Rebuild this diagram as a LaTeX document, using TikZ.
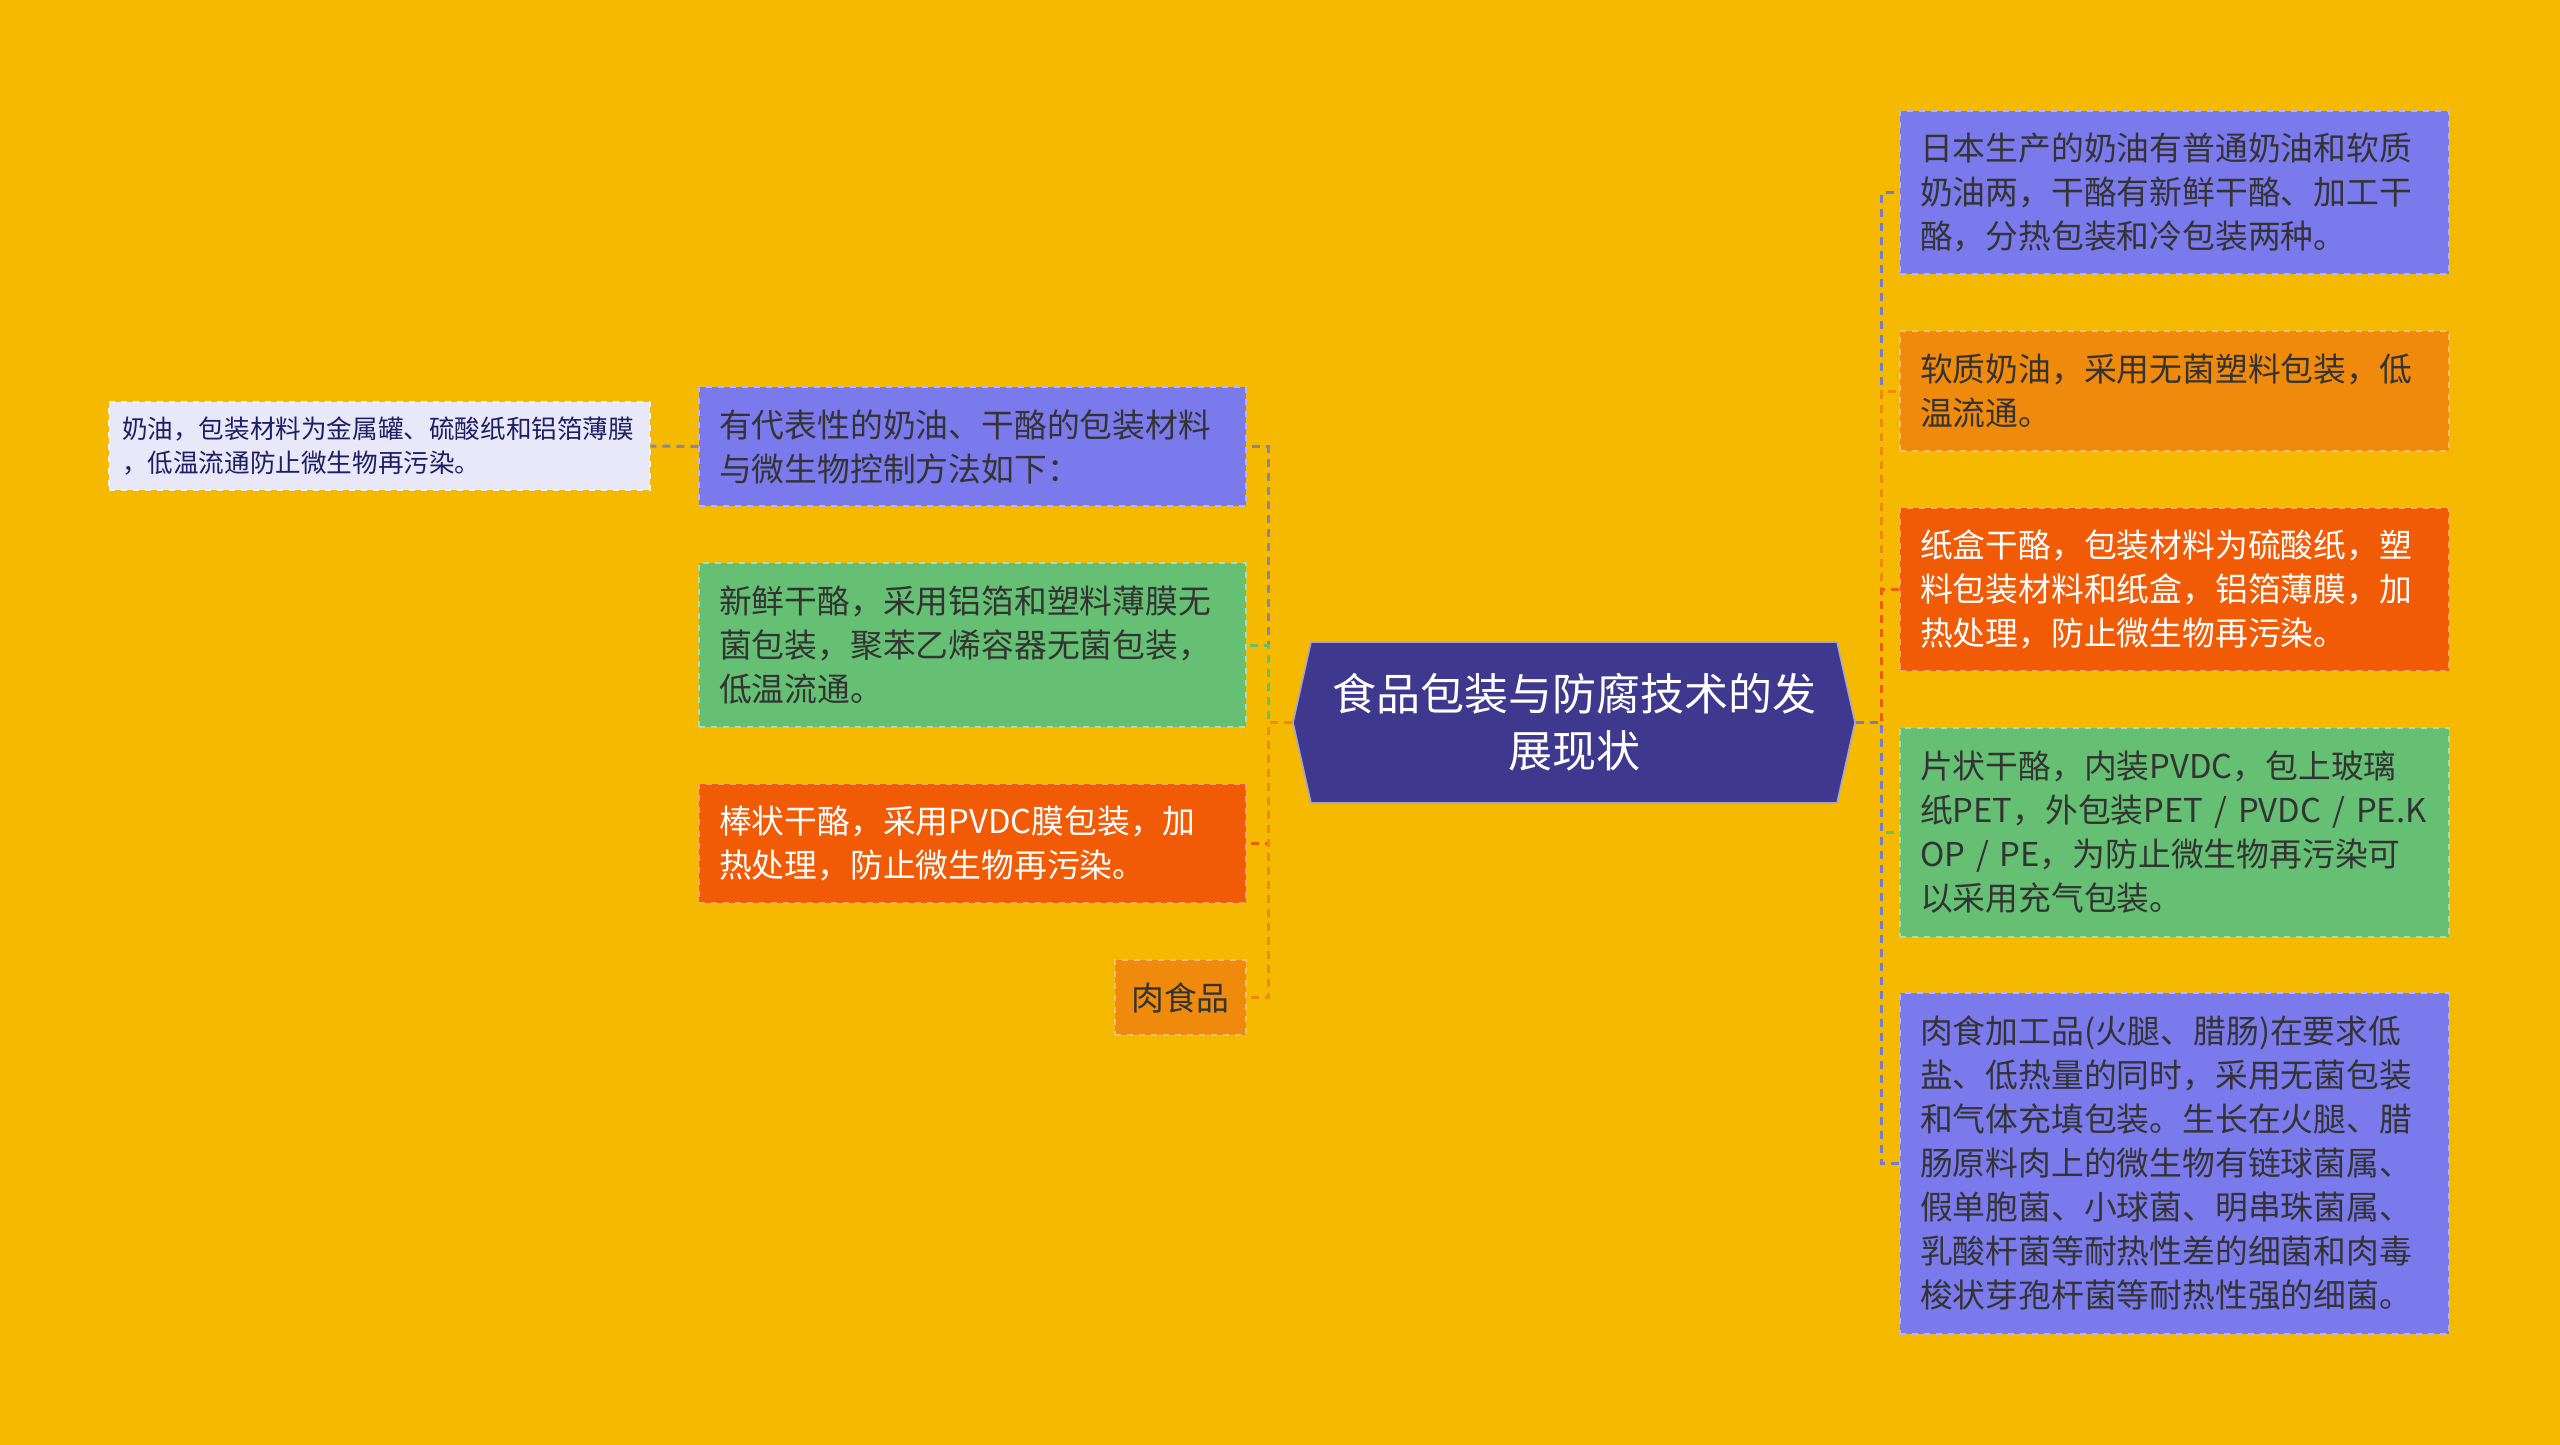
\documentclass[tikz,border=0pt]{standalone}
\usepackage{fontspec}
\setmainfont{Noto Sans CJK SC}
\definecolor{bgyellow}{RGB}{245,185,0}
\definecolor{boxblue}{RGB}{122,122,236}
\definecolor{boxorange}{RGB}{239,138,12}
\definecolor{boxred}{RGB}{242,91,6}
\definecolor{boxgreen}{RGB}{102,192,116}
\definecolor{boxlav}{RGB}{232,232,248}
\definecolor{rootblue}{RGB}{62,56,142}
\definecolor{textdark}{RGB}{51,51,51}
\definecolor{textnavy}{RGB}{30,30,100}
\definecolor{linkblue}{RGB}{118,124,204}
\definecolor{linkgray}{RGB}{135,135,165}

\begin{document}
\begin{tikzpicture}[x=0.5pt, y=-0.5pt, semithick,
    leaf/.style={rectangle, fill=#1, draw=#1!55!white, dashed, inner xsep=10pt, inner ysep=0pt,
        align=left, text=textdark, font=\fontsize{16.4}{22}\selectfont},
    rootnode/.style={rectangle, minimum width=281pt, minimum height=80.5pt, inner sep=0pt,
        align=center, text=white, font=\fontsize{22}{28.5}\selectfont},
    link/.style={draw=#1, line width=1.5pt, dash pattern=on 4pt off 3pt}]
        \fill[bgyellow] (0,0) rectangle (2560,1445);
        \useasboundingbox (0,0) rectangle (2560,1445);

        % central topic
        \filldraw[fill=rootblue, draw=white!55!rootblue, line width=0.8pt]
            (1293,722.5) -- (1311,642) -- (1837,642) -- (1855,722.5) -- (1837,803) -- (1311,803) -- cycle;
        \node[rootnode] (root) at (1574,722.5) {食品包装与防腐技术的发\\展现状};

        % right branches
        \node[leaf=boxblue, text width=254.5pt, minimum height=81.5pt] (r1) at (2174.5,192.5)
            {日本生产的奶油有普通奶油和软质\\奶油两，干酪有新鲜干酪、加工干\\酪，分热包装和冷包装两种。};
        \node[leaf=boxorange, text width=254.5pt, minimum height=60pt] (r2) at (2174.5,391)
            {软质奶油，采用无菌塑料包装，低\\温流通。};
        \node[leaf=boxred, text=white, text width=254.5pt, minimum height=81.5pt] (r3) at (2174.5,589.5)
            {纸盒干酪，包装材料为硫酸纸，塑\\料包装材料和纸盒，铝箔薄膜，加\\热处理，防止微生物再污染。};
        \node[leaf=boxgreen, text width=254.5pt, minimum height=104.5pt] (r4) at (2174.5,832.5)
            {片状干酪，内装PVDC，包上玻璃\\纸PET，外包装PET / PVDC / PE.K\\OP / PE，为防止微生物再污染可\\以采用充气包装。};
        \node[leaf=boxblue, text width=254.5pt, minimum height=170.5pt] (r5) at (2174.5,1163.5)
            {肉食加工品(火腿、腊肠)在要求低\\盐、低热量的同时，采用无菌包装\\和气体充填包装。生长在火腿、腊\\肠原料肉上的微生物有链球菌属、\\假单胞菌、小球菌、明串珠菌属、\\乳酸杆菌等耐热性差的细菌和肉毒\\梭状芽孢杆菌等耐热性强的细菌。};

        % left branches
        \node[leaf=boxblue, text width=253.5pt, minimum height=59.5pt] (l1) at (972.5,446.5)
            {有代表性的奶油、干酪的包装材料\\与微生物控制方法如下：};
        \node[leaf=boxgreen, text width=253.5pt, minimum height=82pt] (l2) at (972.5,645)
            {新鲜干酪，采用铝箔和塑料薄膜无\\菌包装，聚苯乙烯容器无菌包装，\\低温流通。};
        \node[leaf=boxred, text=white, text width=253.5pt, minimum height=59.5pt] (l3) at (972.5,843.5)
            {棒状干酪，采用PVDC膜包装，加\\热处理，防止微生物再污染。};
        \node[leaf=boxorange, align=center, inner xsep=8pt, minimum width=65.5pt, minimum height=37.5pt] (l4) at (1180.5,997.5)
            {肉食品};
        \node[leaf=boxlav, text=textnavy, font=\fontsize{12.8}{17}\selectfont, inner xsep=6.5pt,
            text width=257.5pt, minimum height=44pt] (note) at (379.5,446)
            {奶油，包装材料为金属罐、硫酸纸和铝箔薄膜\\，低温流通防止微生物再污染。};

        % connectors
        \draw[link=linkblue] (root.east) -- ++(26,0) |- (r1.west);
        \draw[link=boxorange] (root.east) -- ++(26,0) |- (r2.west);
        \draw[link=boxred] (root.east) -- ++(26,0) |- (r3.west);
        \draw[link=boxgreen] (root.east) -- ++(26,0) |- (r4.west);
        \draw[link=linkblue] (root.east) -- ++(26,0) |- (r5.west);

        \draw[link=linkgray] (root.west) -- ++(-24,0) |- (l1.east);
        \draw[link=boxgreen] (root.west) -- ++(-24,0) |- (l2.east);
        \draw[link=boxred] (root.west) -- ++(-24,0) |- (l3.east);
        \draw[link=boxorange] (root.west) -- ++(-24,0) |- (l4.east);
        \draw[link=linkgray] (l1.west) -- (note.east);
    \end{tikzpicture}
\end{document}
